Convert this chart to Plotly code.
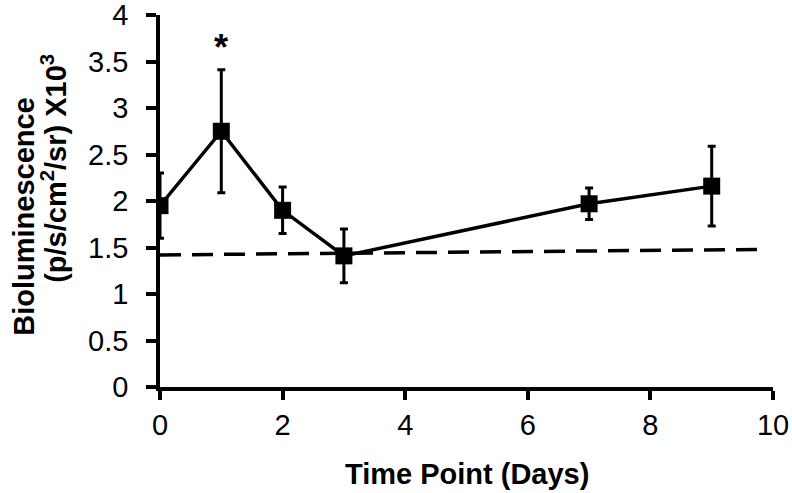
import plotly.graph_objects as go

days = [0, 1, 2, 3, 7, 9]
values = [1.95, 2.75, 1.90, 1.41, 1.97, 2.16]
errors = [0.35, 0.66, 0.25, 0.29, 0.17, 0.43]

baseline_x = [0, 9.88]
baseline_y = [1.42, 1.48]

star_x = 1
star_y = 3.65
star_text = "<b>*</b>"

x_ticks = [0, 2, 4, 6, 8, 10]
y_ticks = [0, 0.5, 1, 1.5, 2, 2.5, 3, 3.5, 4]
y_tick_labels = ["0", "0.5", "1", "1.5", "2", "2.5", "3", "3.5", "4"]

x_title = "<b>Time Point (Days)</b>"
y_title_1 = "<b>Bioluminescence</b>"
y_title_2 = "<b>(p/s/cm<sup>2</sup>/sr) X10<sup>3</sup></b>"

fig = go.Figure()

fig.add_trace(go.Scatter(
    x=baseline_x, y=baseline_y, mode="lines",
    line=dict(color="black", width=3.5, dash="21px,11px"),
    showlegend=False, hoverinfo="skip",
))

fig.add_trace(go.Scatter(
    x=days, y=values, mode="lines+markers",
    line=dict(color="black", width=3.5),
    marker=dict(symbol="square", size=17, color="black"),
    error_y=dict(type="data", array=errors, visible=True,
                 color="black", thickness=3, width=4),
    showlegend=False,
))

axis_font = dict(family="Liberation Sans", size=29, color="black")
title_font = dict(family="Liberation Sans", size=29, color="black")

fig.add_annotation(x=star_x, y=star_y, xref="x", yref="y", text=star_text,
                   showarrow=False, font=dict(family="Liberation Sans", size=36, color="black"),
                   xanchor="center", yanchor="middle")

fig.add_annotation(x=0.5, y=-0.234, xref="paper", yref="paper", text=x_title,
                   showarrow=False, font=title_font, xanchor="center", yanchor="middle")

fig.add_annotation(x=-0.222, y=0.46, xref="paper", yref="paper", text=y_title_1,
                   showarrow=False, font=title_font, textangle=-90,
                   xanchor="center", yanchor="middle")
fig.add_annotation(x=-0.173, y=0.589, xref="paper", yref="paper", text=y_title_2,
                   showarrow=False, font=title_font, textangle=-90,
                   xanchor="center", yanchor="middle")

fig.update_layout(
    width=792, height=493,
    margin=dict(l=160, r=19, t=15, b=106),
    paper_bgcolor="white", plot_bgcolor="white",
    xaxis=dict(
        range=[0, 10], tickvals=x_ticks, ticktext=[str(t) for t in x_ticks],
        showgrid=False, zeroline=False, showline=True, linecolor="black", linewidth=3.5,
        ticks="outside", ticklen=9, tickwidth=3.5, tickcolor="black",
        tickfont=axis_font, automargin=False, ticklabelstandoff=0,
        ticklabeloverflow="allow",
    ),
    yaxis=dict(
        range=[0, 4], tickvals=y_ticks, ticktext=y_tick_labels,
        showgrid=False, zeroline=False, showline=True, linecolor="black", linewidth=3.5,
        ticks="outside", ticklen=10, tickwidth=3.5, tickcolor="black",
        tickfont=axis_font, automargin=False, ticklabelstandoff=12,
        ticklabeloverflow="allow",
    ),
)

# remove the browser's default body margin so the figure sits at the page origin
fig.write_html("out.html", config={"displayModeBar": False},
               post_script="document.body.style.margin='0';")
